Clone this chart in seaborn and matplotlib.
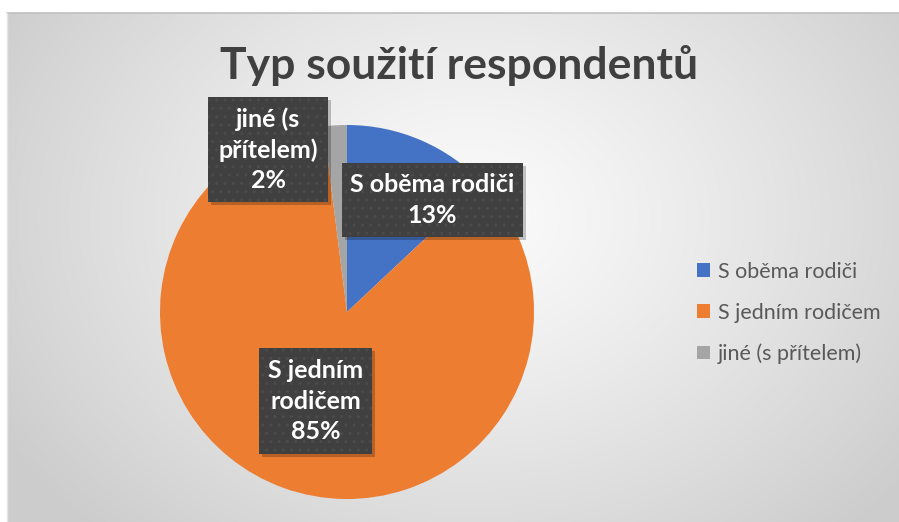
import numpy as np
import matplotlib
matplotlib.use("Agg")
import matplotlib.pyplot as plt
from matplotlib.patches import Rectangle
import seaborn as sns

# ---- data ----
categories = ["S oběma rodiči", "S jedním rodičem", "jiné (s přítelem)"]
values = [13, 85, 2]
box_labels = ["S oběma rodiči\n13%", "S jedním\nrodičem\n85%", "jiné (s\npřítelem)\n2%"]
title = "Typ soužití respondentů"

sns.set_theme(style="white")
colors = sns.color_palette(["#4472C4", "#ED7D31", "#A5A5A5"])
FONT = ["Lato", "DejaVu Sans"]
plt.rcParams["font.family"] = FONT

W, H = 899, 522
fig = plt.figure(figsize=(W / 100, H / 100), dpi=100)
fig.patch.set_facecolor("white")

# ---- radial gradient background (chart area) ----
x0, y0 = 7, 13  # top-left of chart area in px
bg = fig.add_axes([x0 / W, 0, (W - x0) / W, (H - y0) / H])
gw, gh = W - x0, H - y0
yy, xx = np.mgrid[0:gh, 0:gw]
cx, cy = gw * 0.52, gh * 0.40
d = np.sqrt(((xx - cx) / (gw * 0.62)) ** 2 + ((yy - cy) / (gh * 0.85)) ** 2)
d = np.clip(d, 0, 1) ** 1.2
c0 = np.array([0.985, 0.985, 0.985])
c1 = np.array([0.80, 0.80, 0.80])
img = c0[None, None, :] * (1 - d[..., None]) + c1[None, None, :] * d[..., None]
bg.imshow(img, aspect="auto", interpolation="bilinear")
bg.set_axis_off()
fig.add_artist(plt.Line2D([x0 / W, 1], [1 - y0 / H, 1 - y0 / H], color="#bfbfbf", lw=1.2,
                          transform=fig.transFigure))
fig.add_artist(plt.Line2D([x0 / W, x0 / W], [0, 1 - y0 / H], color="#e6e6e6", lw=1.0,
                          transform=fig.transFigure))

# ---- pie ----
pcx, pcy, r = 347, 312, 187
ax = fig.add_axes([(pcx - r) / W, (H - pcy - r) / H, 2 * r / W, 2 * r / H])
ax.set_facecolor("none")
wedges, _ = ax.pie(values, colors=colors, startangle=90, counterclock=False, radius=1,
                   wedgeprops=dict(linewidth=0))
ax.set_xlim(-1, 1)
ax.set_ylim(-1, 1)
ax.set_aspect("equal")
ax.set_axis_off()

# label box centres (in pie-radius units) and box sizes (px)
label_pos = [(0.457, 0.599), (-0.168, -0.476), (-0.422, 0.869)]
box_sizes = [(181, 74), (113, 106), (120, 105)]
plt.rcParams["hatch.linewidth"] = 1.0
for (lx, ly), (bw, bh), txt in zip(label_pos, box_sizes, box_labels):
    w_ = bw / r
    h_ = bh / r
    sh = Rectangle((lx - w_ / 2 + 3 / r, ly - h_ / 2 - 3 / r), w_, h_, facecolor="black",
                   alpha=0.22, edgecolor="none", zorder=5, clip_on=False)
    ax.add_patch(sh)
    box = Rectangle((lx - w_ / 2, ly - h_ / 2), w_, h_, facecolor="#404040",
                    edgecolor="none", zorder=6, clip_on=False)
    ax.add_patch(box)
    hat = Rectangle((lx - w_ / 2, ly - h_ / 2), w_, h_, facecolor="none",
                    edgecolor="#4b4b4b", hatch="..", linewidth=0, zorder=7, clip_on=False)
    ax.add_patch(hat)
    ax.text(lx, ly, txt, ha="center", va="center", color="white", fontsize=18,
            fontweight="bold", linespacing=1.38, zorder=8, family=FONT)

# ---- title ----
fig.text(0.511, 1 - 66 / H, title, ha="center", va="center", fontsize=32,
         fontweight="bold", color="#404040", family=FONT)

# ---- legend ----
leg = fig.legend(wedges, categories, loc="center left",
                 bbox_to_anchor=(678 / W, 1 - 313 / H), frameon=False,
                 handlelength=0.6, handleheight=0.6, handletextpad=0.35,
                 labelspacing=0.97, prop=dict(family=FONT, size=15.5))
for t in leg.get_texts():
    t.set_color("#595959")

fig.savefig("out.png", dpi=100)
